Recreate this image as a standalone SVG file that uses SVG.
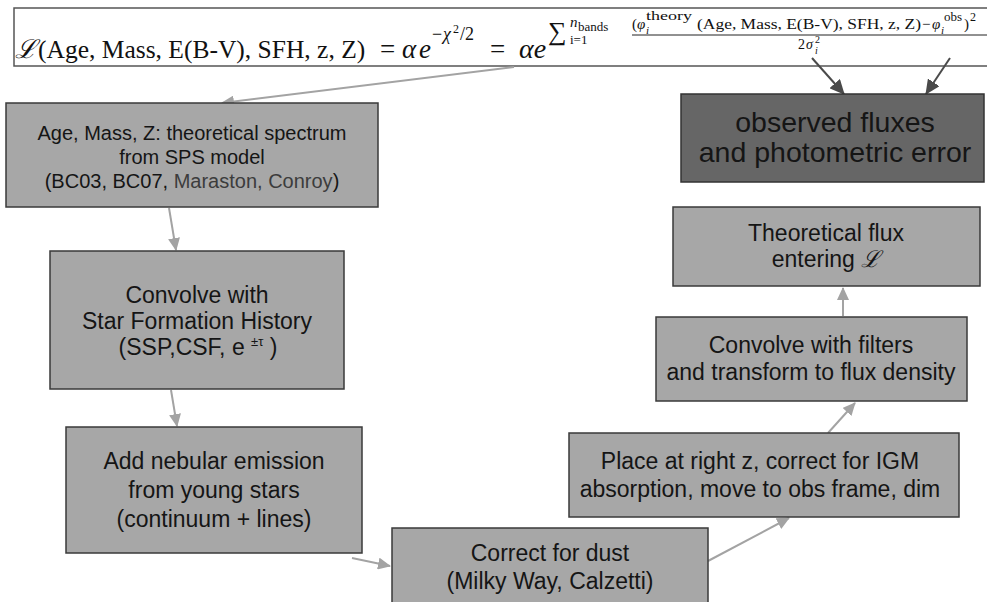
<svg xmlns="http://www.w3.org/2000/svg" width="987" height="602" viewBox="0 0 987 602">
<style>
.box{fill:#a7a7a7;stroke:#3a3a3a;stroke-width:1.5}
.dark{fill:#666666;stroke:#333333;stroke-width:1.5}
.t{font-family:"Liberation Sans",Arial,sans-serif;fill:#151515;text-anchor:middle}
.s20{font-size:20px}
.s23{font-size:23px}
.s28{font-size:28.5px}
.m{font-family:"Liberation Serif","Times New Roman",serif;fill:#111}
.i{font-style:italic}
.lc{stroke:#a3a3a3;stroke-width:2;fill:none;marker-end:url(#al)}
.dc{stroke:#4a4a4a;stroke-width:2;fill:none;marker-end:url(#ad)}
</style>
<defs>
<marker id="al" markerUnits="userSpaceOnUse" markerWidth="14" markerHeight="12" refX="12" refY="6" orient="auto">
<path d="M0,0 L13,6 L0,12 Z" fill="#a3a3a3"/>
</marker>
<marker id="ad" markerUnits="userSpaceOnUse" markerWidth="16" markerHeight="14" refX="14" refY="7" orient="auto">
<path d="M0,0 L15,7 L0,14 Z" fill="#4a4a4a"/>
</marker>
</defs>
<rect width="987" height="602" fill="#ffffff"/>

<g id="formula">
<rect x="14" y="8" width="990" height="58" fill="#ffffff" stroke="#555555" stroke-width="1.5"/>
<text class="m" x="15" y="58" font-size="26" font-family="DejaVu Serif" font-style="italic">ℒ</text>
<text class="m" x="38" y="58" font-size="25.5">(Age, Mass, E(B-V), SFH, z, Z)</text>
<text class="m" x="380" y="58" font-size="27">=</text>
<text class="m i" x="402" y="58" font-size="27">α</text>
<text class="m i" x="419" y="58" font-size="27">e</text>
<text class="m" x="432" y="40" font-size="18">−</text>
<text class="m i" x="443" y="40" font-size="18">χ</text>
<text class="m" x="453" y="33" font-size="12">2</text>
<text class="m" x="460" y="40" font-size="18">/2</text>
<text class="m" x="490" y="58" font-size="27">=</text>
<text class="m i" x="519" y="58" font-size="28">αe</text>
<text class="m" x="548" y="40" font-size="26">∑</text>
<text class="m i" x="570" y="27" font-size="15">n</text>
<text class="m" x="578" y="31" font-size="13">bands</text>
<text class="m" x="570" y="44" font-size="13">i=1</text>
<text class="m" x="632" y="29" font-size="15">(</text>
<text class="m i" x="637" y="29" font-size="15">φ</text>
<text class="m" x="646" y="20" font-size="13" textLength="46" lengthAdjust="spacingAndGlyphs">theory</text>
<text class="m i" x="646" y="34" font-size="11">i</text>
<text class="m" x="697" y="29" font-size="15" textLength="224" lengthAdjust="spacingAndGlyphs">(Age, Mass, E(B-V), SFH, z, Z)</text>
<text class="m" x="922" y="29" font-size="15">−</text>
<text class="m i" x="932" y="29" font-size="15">φ</text>
<text class="m" x="944" y="21" font-size="13">obs</text>
<text class="m i" x="941" y="34" font-size="11">i</text>
<text class="m" x="964" y="29" font-size="15">)</text>
<text class="m" x="970" y="21" font-size="12">2</text>
<line x1="632" y1="35" x2="987" y2="35" stroke="#222" stroke-width="1"/>
<text class="m" x="798" y="49" font-size="14">2</text>
<text class="m i" x="806" y="49" font-size="14">σ</text>
<text class="m" x="815" y="43" font-size="10">2</text>
<text class="m i" x="815" y="54" font-size="10">i</text>
</g>

<g id="connectors">
<line class="lc" x1="514" y1="67" x2="222" y2="103"/>
<line class="lc" x1="169" y1="208" x2="176" y2="250"/>
<line class="lc" x1="171" y1="390" x2="177" y2="426"/>
<line class="lc" x1="352" y1="558" x2="390" y2="566"/>
<line class="lc" x1="708" y1="561" x2="789" y2="518"/>
<line class="lc" x1="828" y1="433" x2="855" y2="403"/>
<line class="lc" x1="843" y1="316" x2="843" y2="288"/>
<line class="dc" x1="812" y1="58" x2="844" y2="94"/>
<line class="dc" x1="950" y1="58" x2="926" y2="94"/>
</g>

<g id="sps">
<rect class="box" x="6" y="103" width="372" height="104"/>
<text class="t s20" x="192" y="140">Age, Mass, Z: theoretical spectrum</text>
<text class="t s20" x="192" y="164">from SPS model</text>
<text class="t s20" x="192" y="188">(BC03, BC07, <tspan fill="#3c3c3c">Maraston, Conroy</tspan>)</text>
</g>

<g id="sfh">
<rect class="box" x="50" y="251" width="294" height="138"/>
<text class="t s23" x="197" y="303">Convolve with</text>
<text class="t s23" x="197" y="329">Star Formation History</text>
<text class="t s23" x="198" y="355">(SSP,CSF, e <tspan font-size="13" dy="-9">±τ</tspan><tspan dy="9"> )</tspan></text>
</g>

<g id="nebular">
<rect class="box" x="66" y="427" width="296" height="126"/>
<text class="t s23" x="214" y="469">Add nebular emission</text>
<text class="t s23" x="214" y="498">from young stars</text>
<text class="t s23" x="214" y="527">(continuum + lines)</text>
</g>

<g id="dust">
<rect class="box" x="392" y="528" width="316" height="84"/>
<text class="t s23" x="550" y="561">Correct for dust</text>
<text class="t s23" x="550" y="589">(Milky Way, Calzetti)</text>
</g>

<g id="redshift">
<rect class="box" x="569" y="433" width="390" height="84"/>
<text class="t s23" x="760" y="469">Place at right z, correct for IGM</text>
<text class="t s23" x="760" y="497">absorption, move to obs frame, dim</text>
</g>

<g id="filters">
<rect class="box" x="656" y="317" width="311" height="84"/>
<text class="t s23" x="811" y="353">Convolve with filters</text>
<text class="t s23" x="811" y="380">and transform to flux density</text>
</g>

<g id="theoretical">
<rect class="box" x="673" y="207" width="307" height="79"/>
<text class="t s23" x="826" y="241">Theoretical flux</text>
<text class="t s23" x="826" y="267">entering <tspan font-family="DejaVu Serif" font-style="italic">ℒ</tspan></text>
</g>

<g id="observed">
<rect class="dark" x="681" y="94" width="303" height="88"/>
<text class="t s28" x="835" y="132">observed fluxes</text>
<text class="t s28" x="835" y="162">and photometric error</text>
</g>
</svg>
